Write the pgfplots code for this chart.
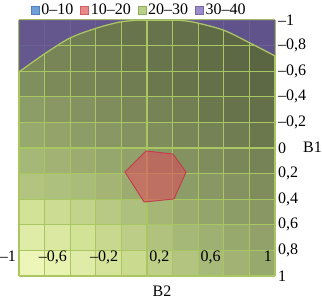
\documentclass[border=0pt]{standalone}
\usepackage{fontspec}
\setmainfont{Liberation Serif}
\newfontfamily\tnr{Liberation Serif}
\usepackage{pgfplots}
\pgfplotsset{compat=1.18}
\definecolor{gridc}{RGB}{170,198,98}
\definecolor{purp}{RGB}{98,80,152}
\definecolor{hexr}{RGB}{226,70,92}
\definecolor{lgblue}{RGB}{112,160,216}
\definecolor{lgblued}{RGB}{80,128,192}
\definecolor{lgred}{RGB}{232,136,136}
\definecolor{lgredd}{RGB}{208,96,96}
\definecolor{lggreen}{RGB}{184,208,136}
\definecolor{lggreend}{RGB}{144,176,96}
\definecolor{lgpurp}{RGB}{156,140,200}
\definecolor{lgpurpd}{RGB}{120,104,168}
\newcommand{\ff}{\tnr\fontsize{16}{18}\selectfont}
\pgfplotstableread[row sep=\\]{
x y c\\
-0.9 -0.9 0.30\\ -0.7 -0.9 0.28\\ -0.5 -0.9 0.25\\ -0.3 -0.9 0.22\\ -0.1 -0.9 0.20\\ 0.1 -0.9 0.18\\ 0.3 -0.9 0.15\\ 0.5 -0.9 0.10\\ 0.7 -0.9 0.06\\ 0.9 -0.9 0.03\\
-0.9 -0.7 0.32\\ -0.7 -0.7 0.30\\ -0.5 -0.7 0.27\\ -0.3 -0.7 0.25\\ -0.1 -0.7 0.22\\ 0.1 -0.7 0.20\\ 0.3 -0.7 0.17\\ 0.5 -0.7 0.12\\ 0.7 -0.7 0.08\\ 0.9 -0.7 0.05\\
-0.9 -0.5 0.36\\ -0.7 -0.5 0.33\\ -0.5 -0.5 0.30\\ -0.3 -0.5 0.28\\ -0.1 -0.5 0.25\\ 0.1 -0.5 0.22\\ 0.3 -0.5 0.19\\ 0.5 -0.5 0.15\\ 0.7 -0.5 0.11\\ 0.9 -0.5 0.08\\
-0.9 -0.3 0.44\\ -0.7 -0.3 0.41\\ -0.5 -0.3 0.38\\ -0.3 -0.3 0.35\\ -0.1 -0.3 0.32\\ 0.1 -0.3 0.29\\ 0.3 -0.3 0.26\\ 0.5 -0.3 0.22\\ 0.7 -0.3 0.18\\ 0.9 -0.3 0.15\\
-0.9 -0.1 0.50\\ -0.7 -0.1 0.47\\ -0.5 -0.1 0.44\\ -0.3 -0.1 0.41\\ -0.1 -0.1 0.38\\ 0.1 -0.1 0.35\\ 0.3 -0.1 0.31\\ 0.5 -0.1 0.28\\ 0.7 -0.1 0.25\\ 0.9 -0.1 0.22\\
-0.9 0.1 0.58\\ -0.7 0.1 0.55\\ -0.5 0.1 0.52\\ -0.3 0.1 0.49\\ -0.1 0.1 0.46\\ 0.1 0.1 0.42\\ 0.3 0.1 0.38\\ 0.5 0.1 0.35\\ 0.7 0.1 0.32\\ 0.9 0.1 0.29\\
-0.9 0.3 0.64\\ -0.7 0.3 0.62\\ -0.5 0.3 0.60\\ -0.3 0.3 0.56\\ -0.1 0.3 0.52\\ 0.1 0.3 0.48\\ 0.3 0.3 0.44\\ 0.5 0.3 0.41\\ 0.7 0.3 0.38\\ 0.9 0.3 0.35\\
-0.9 0.5 0.80\\ -0.7 0.5 0.77\\ -0.5 0.5 0.72\\ -0.3 0.5 0.67\\ -0.1 0.5 0.62\\ 0.1 0.5 0.57\\ 0.3 0.5 0.52\\ 0.5 0.5 0.48\\ 0.7 0.5 0.44\\ 0.9 0.5 0.41\\
-0.9 0.7 0.88\\ -0.7 0.7 0.85\\ -0.5 0.7 0.80\\ -0.3 0.7 0.75\\ -0.1 0.7 0.69\\ 0.1 0.7 0.63\\ 0.3 0.7 0.58\\ 0.5 0.7 0.54\\ 0.7 0.7 0.50\\ 0.9 0.7 0.46\\
-0.9 0.9 0.96\\ -0.7 0.9 0.93\\ -0.5 0.9 0.88\\ -0.3 0.9 0.82\\ -0.1 0.9 0.76\\ 0.1 0.9 0.70\\ 0.3 0.9 0.64\\ 0.5 0.9 0.59\\ 0.7 0.9 0.55\\ 0.9 0.9 0.50\\
}\cells
\begin{document}
\begin{tikzpicture}[font=\ff]
\begin{axis}[
  set layers, clip mode=individual,
  scale only axis, width=256pt, height=256pt,
  xmin=-1, xmax=1, ymin=-1, ymax=1, y dir=reverse,
  axis line style={draw=none},
  major tick length=0pt, minor tick length=0pt,
  xtick={-1,-0.6,-0.2,0.2,0.6,1},
  minor xtick={-0.8,-0.4,0,0.4,0.8},
  xticklabels={{–1},{–0,6},{–0,2},{0,2},{0,6},{1}},
  ytick={-1,-0.8,-0.6,-0.4,-0.2,0,0.2,0.4,0.6,0.8,1},
  yticklabels={{–1},{–0,8},{–0,6},{–0,4},{–0,2},{0},{0,2},{0,4},{0,6},{0,8},{1}},
  yticklabel pos=right,
  xmajorgrids, xminorgrids, ymajorgrids,
  grid style={gridc, line width=1.1pt},
  minor grid style={gridc, line width=1.1pt},
  tick label style={font=\ff},
  xticklabel style={anchor=base east, inner sep=0pt, xshift=-3pt, yshift=14pt},
  yticklabel style={anchor=west, inner sep=0pt, xshift=3pt},
  colormap={olv}{rgb255(0)=(86,96,62); rgb255(0.2)=(104,117,76); rgb255(0.4)=(134,149,98); rgb255(0.6)=(170,188,122); rgb255(0.8)=(210,226,150); rgb255(1)=(243,250,192)},
  point meta min=0, point meta max=1,
  legend columns=4,
  legend style={at={(0.47,1)}, anchor=south, yshift=2pt, draw=none, fill=none, inner sep=0pt, font=\ff,
    /tikz/every even column/.style={column sep=5pt}},
  legend image code/.code={\draw[#1] (0pt,-4pt) rectangle (8pt,4pt);},
]
\addplot[matrix plot*, on layer=axis background, mesh/cols=10, point meta=explicit, forget plot]
  table[x=x, y=y, meta=c] {\cells};
\addplot[fill=purp, fill opacity=0.85, draw=none, forget plot] coordinates {
  (-1,-1) (-1,-0.594) (-0.8125,-0.727) (-0.602,-0.859) (-0.391,-0.9375) (-0.211,-0.984)
  (-0.055,-1) (0.219,-1) (0.359,-0.984) (0.594,-0.922) (0.805,-0.82) (1,-0.719) (1,-1) (-1,-1)};
\addplot[gridc, line width=1.3pt, smooth, forget plot] coordinates {
  (-1,-0.594) (-0.8125,-0.727) (-0.602,-0.859) (-0.391,-0.9375) (-0.211,-0.984) (-0.055,-1)};
\addplot[gridc, line width=1.3pt, smooth, forget plot] coordinates {
  (0.219,-1) (0.359,-0.984) (0.594,-0.922) (0.805,-0.82) (1,-0.719)};
\addplot[fill=hexr, fill opacity=0.55, draw=hexr!85!black, line width=0.9pt, forget plot] coordinates {
  (-0.172,0.1875) (-0.008,0.023) (0.203,0.047) (0.305,0.1875) (0.211,0.398) (-0.023,0.422) (-0.172,0.1875)};
\addlegendimage{fill=lgblue, draw=lgblued}
\addlegendentry{0–10}
\addlegendimage{fill=lgred, draw=lgredd}
\addlegendentry{10–20}
\addlegendimage{fill=lggreen, draw=lggreend}
\addlegendentry{20–30}
\addlegendimage{fill=lgpurp, draw=lgpurpd}
\addlegendentry{30–40}
\end{axis}
\node[anchor=base west, inner sep=0pt, font=\ff] at ([xshift=28pt, yshift=-5pt]current axis.east) {B1};
\node[anchor=base, inner sep=0pt, font=\ff] at ([xshift=15pt, yshift=-21pt]current axis.south) {B2};
\pgfresetboundingbox
\path (current axis.south west) ++(-19pt,-24pt) rectangle ++(322pt,300pt);
\end{tikzpicture}
\end{document}
